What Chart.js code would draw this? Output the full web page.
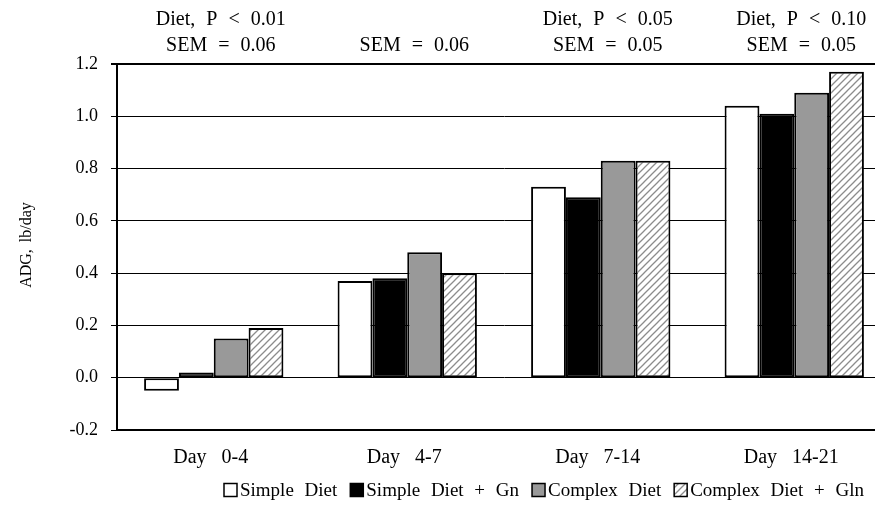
<!DOCTYPE html>
<html><head><meta charset="utf-8">
<script src="https://cdn.jsdelivr.net/npm/chart.js@4/dist/chart.umd.min.js"></script>
<style>
html,body{margin:0;padding:0;background:#fff;overflow:hidden;width:875px;height:518px;}
#wrap{position:relative;width:900px;height:518px;}
</style></head>
<body><div id="wrap"><canvas id="c" width="900" height="518"></canvas></div>
<script>
const categories = ['Day 0-4', 'Day 4-7', 'Day 7-14', 'Day 14-21'];
const seriesNames = ['Simple Diet', 'Simple Diet + Gn', 'Complex Diet', 'Complex Diet + Gln'];
const simpleDiet = [-0.05, 0.37, 0.73, 1.04];
const simpleDietGn = [0.02, 0.38, 0.69, 1.01];
const complexDiet = [0.15, 0.48, 0.83, 1.09];
const complexDietGln = [0.19, 0.40, 0.83, 1.17];
const topNotes = [['Diet, P < 0.01', 'SEM = 0.06'], ['', 'SEM = 0.06'], ['Diet, P < 0.05', 'SEM = 0.05'], ['Diet, P < 0.10', 'SEM = 0.05']];
const yTicks = [-0.2, 0.0, 0.2, 0.4, 0.6, 0.8, 1.0, 1.2];
const yTitle = 'ADG, lb/day';

const FONT = '"Liberation Serif", "Times New Roman", serif';

function hatch() {
  const p = document.createElement('canvas');
  p.width = 7; p.height = 7;
  const g = p.getContext('2d');
  g.fillStyle = '#fff'; g.fillRect(0, 0, 7, 7);
  g.strokeStyle = '#8c8c8c'; g.lineWidth = 1.3;
  g.beginPath();
  g.moveTo(-1, 8); g.lineTo(8, -1);
  g.moveTo(-1, 1); g.lineTo(1, -1);
  g.moveTo(6, 8); g.lineTo(8, 6);
  g.stroke();
  return g.createPattern(p, 'repeat');
}
const hatchFill = hatch();
const fills = ['#ffffff', '#000000', '#999999', hatchFill];
const values = [simpleDiet, simpleDietGn, complexDiet, complexDietGln];

const spacing = {
  id: 'spacing',
  beforeDraw(chart) { chart.ctx.wordSpacing = '10px'; },
  afterDraw(chart) { chart.ctx.wordSpacing = '0px'; }
};

const annotations = {
  id: 'annotations',
  afterDraw(chart) {
    const ctx = chart.ctx;
    const xs = chart.scales.x;
    const ys = chart.scales.y;
    ctx.save();
    ctx.fillStyle = '#000';
    ctx.font = '20px ' + FONT;
    ctx.wordSpacing = '6px';
    ctx.textAlign = 'center';
    ctx.textBaseline = 'middle';
    topNotes.forEach((lines, i) => {
      const x = xs.getPixelForValue(i) + 7;
      if (lines[0]) ctx.fillText(lines[0], x, 20);
      ctx.fillText(lines[1], x, 46);
    });
    // y axis title
    ctx.save();
    ctx.font = '16px ' + FONT;
    ctx.wordSpacing = '3px';
    ctx.translate(27, (ys.top + ys.bottom) / 2 - 2);
    ctx.rotate(-Math.PI / 2);
    ctx.fillText(yTitle, 0, 0);
    ctx.restore();
    // legend
    ctx.font = '19px ' + FONT;
    ctx.wordSpacing = '6px';
    ctx.textAlign = 'left';
    let x = 224;
    const y = 490;
    seriesNames.forEach((name, i) => {
      ctx.fillStyle = fills[i];
      ctx.fillRect(x, y - 6.5, 13, 13);
      ctx.strokeStyle = '#000'; ctx.lineWidth = 1.5;
      ctx.strokeRect(x, y - 6.5, 13, 13);
      ctx.fillStyle = '#000';
      ctx.fillText(name, x + 16, y + 1);
      x += 16 + ctx.measureText(name).width + 13;
    });
    ctx.restore();
  }
};

new Chart(document.getElementById('c'), {
  type: 'bar',
  data: {
    labels: categories,
    datasets: seriesNames.map((n, i) => ({
      label: n,
      data: values[i],
      backgroundColor: fills[i],
      borderColor: '#000',
      borderWidth: 2,
      borderSkipped: false,
      barPercentage: 1.0,
      categoryPercentage: 0.72
    }))
  },
  options: {
    responsive: false,
    animation: false,
    layout: { padding: { top: 64, right: 9, bottom: 48, left: 0 } },
    plugins: { legend: { display: false }, tooltip: { enabled: false } },
    scales: {
      x: {
        grid: { display: false, drawTicks: false },
        border: { display: true, color: '#000', width: 2 },
        ticks: { color: '#000', font: { family: FONT, size: 20 }, padding: 16, maxRotation: 0, labelOffset: -3 },
        afterFit(s) { s.height = 40; }
      },
      y: {
        min: -0.2, max: 1.2,
        afterBuildTicks(s) { s.ticks = yTicks.map(v => ({ value: v })); },
        grid: {
          color: '#000',
          lineWidth: c => (c.tick && Math.abs(c.tick.value - 1.2) < 1e-6) ? 2 : 1,
          tickLength: 6,
          drawTicks: true
        },
        border: { display: true, color: '#000', width: 2 },
        ticks: {
          color: '#000', font: { family: FONT, size: 18 }, padding: 13,
          callback: v => v.toFixed(1)
        },
        title: { display: false },
        afterFit(s) { s.width = 117; }
      }
    }
  },
  plugins: [spacing, annotations]
});
</script>
</body></html>
